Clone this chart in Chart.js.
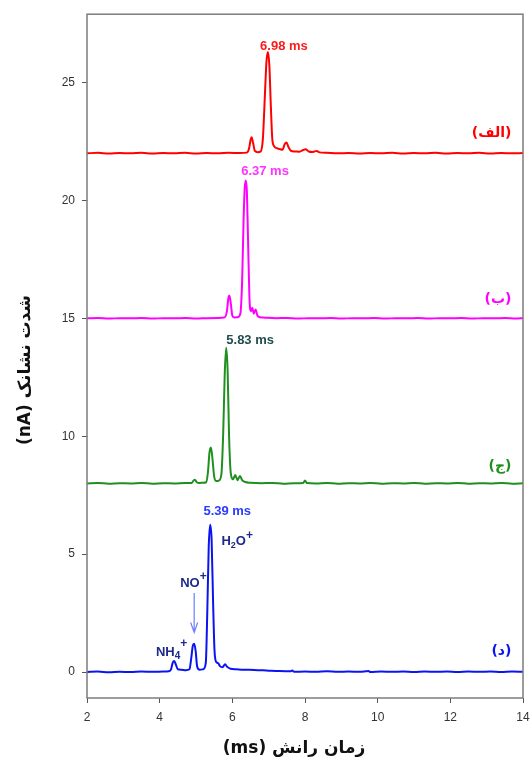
<!DOCTYPE html>
<html>
<head>
<meta charset="utf-8">
<script src="https://cdn.jsdelivr.net/npm/chart.js@4/dist/chart.umd.min.js"></script>
<style>
  html, body { margin: 0; padding: 0; background: #ffffff; }
  canvas { display: block; }
</style>
</head>
<body>
<canvas id="ims" width="531" height="762"></canvas>
<script>
// Drift-time spectra: [drift time (ms), detector current (nA)], each trace offset vertically
const traceNames = ['(الف)', '(ب)', '(ج)', '(د)'];
const peakTimes = [6.98, 6.37, 5.83, 5.39];

const traceAlef = [
  [2.0,22.00],[2.3,22.02],[2.6,21.99],[2.9,22.01],[3.2,22.00],[3.5,22.02],[3.8,21.99],[4.1,22.01],
  [4.4,22.00],[4.7,22.02],[5.0,21.99],[5.3,22.01],[5.6,22.00],[5.9,22.02],[6.2,22.01],[6.4,22.03],
  [6.46,22.20],[6.5,22.55],[6.53,22.68],[6.57,22.45],[6.62,22.10],[6.7,22.05],[6.78,22.08],[6.84,22.6],
  [6.9,24.6],[6.94,25.9],[6.98,26.30],[7.02,25.7],[7.06,24.0],[7.1,22.6],[7.15,22.3],[7.22,22.22],
  [7.3,22.18],[7.38,22.15],[7.44,22.38],[7.49,22.46],[7.55,22.25],[7.62,22.10],[7.72,22.08],[7.85,22.07],
  [7.95,22.14],[8.02,22.17],[8.1,22.08],[8.22,22.06],[8.32,22.10],[8.4,22.04],[8.6,22.02],[8.9,22.00],
  [9.2,22.01],[9.5,21.99],[9.8,22.01],[10.1,22.00],[10.4,22.02],[10.7,21.99],[11.0,22.01],[11.3,22.00],
  [11.6,22.02],[11.9,21.99],[12.2,22.01],[12.5,22.00],[12.8,22.02],[13.1,21.99],[13.4,22.01],[13.7,22.00],
  [14.0,22.01]
];

const traceBe = [
  [2.0,15.00],[2.3,15.02],[2.6,14.99],[2.9,15.01],[3.2,15.00],[3.5,15.02],[3.8,14.99],[4.1,15.01],
  [4.4,15.00],[4.7,15.02],[5.0,14.99],[5.3,15.01],[5.6,15.02],[5.78,15.04],[5.85,15.3],[5.89,15.85],
  [5.92,15.97],[5.96,15.6],[6.0,15.12],[6.06,15.04],[6.14,15.05],[6.22,15.2],[6.27,16.6],[6.31,19.2],
  [6.34,20.5],[6.37,20.85],[6.40,20.4],[6.43,18.5],[6.47,15.9],[6.51,15.3],[6.55,15.45],[6.59,15.2],
  [6.64,15.38],[6.69,15.12],[6.76,15.05],[6.9,15.03],[7.2,15.01],[7.5,15.02],[7.8,14.99],[8.1,15.01],
  [8.4,15.00],[8.7,15.02],[9.0,14.99],[9.3,15.01],[9.6,15.00],[9.9,15.02],[10.2,14.99],[10.5,15.01],
  [10.8,15.00],[11.1,15.02],[11.4,14.99],[11.7,15.01],[12.0,15.00],[12.3,15.02],[12.6,14.99],[12.9,15.01],
  [13.2,15.00],[13.5,15.02],[13.8,14.99],[14.0,15.01]
];

const traceJim = [
  [2.0,8.00],[2.3,8.02],[2.6,7.99],[2.9,8.01],[3.2,8.00],[3.5,8.02],[3.8,7.99],[4.1,8.01],
  [4.4,8.00],[4.7,8.02],[4.88,8.02],[4.93,8.12],[4.97,8.16],[5.02,8.05],[5.1,8.02],[5.2,8.03],
  [5.28,8.05],[5.33,8.5],[5.37,9.3],[5.41,9.52],[5.45,9.1],[5.5,8.3],[5.56,8.1],[5.63,8.12],
  [5.7,8.4],[5.75,10.2],[5.79,12.6],[5.83,13.75],[5.87,12.8],[5.91,10.0],[5.96,8.4],[6.02,8.18],
  [6.08,8.36],[6.14,8.14],[6.21,8.32],[6.27,8.14],[6.35,8.06],[6.5,8.03],[6.8,8.01],[7.1,8.02],
  [7.4,7.99],[7.7,8.01],[7.95,8.02],[8.0,8.12],[8.05,8.02],[8.3,8.00],[8.6,8.02],[8.9,7.99],
  [9.2,8.01],[9.5,8.00],[9.8,8.02],[10.1,7.99],[10.4,8.01],[10.7,8.00],[11.0,8.02],[11.3,7.99],
  [11.6,8.01],[11.9,8.00],[12.2,8.02],[12.5,7.99],[12.8,8.01],[13.1,8.00],[13.4,8.02],[13.7,7.99],
  [14.0,8.01]
];

const traceDal = [
  [2.0,0.00],[2.3,0.02],[2.6,-0.01],[2.9,0.01],[3.2,0.00],[3.5,0.02],[3.8,0.01],[4.1,0.02],
  [4.25,0.03],[4.31,0.10],[4.36,0.40],[4.4,0.47],[4.45,0.30],[4.5,0.12],[4.6,0.10],[4.72,0.08],
  [4.82,0.12],[4.87,0.60],[4.91,1.10],[4.95,1.20],[4.99,0.90],[5.03,0.25],[5.1,0.10],[5.2,0.12],
  [5.27,0.40],[5.31,2.5],[5.35,5.3],[5.39,6.25],[5.43,5.6],[5.47,3.0],[5.51,0.90],[5.56,0.42],
  [5.61,0.38],[5.66,0.25],[5.73,0.20],[5.8,0.33],[5.86,0.22],[5.95,0.14],[6.1,0.12],[6.3,0.10],
  [6.6,0.09],[7.0,0.06],[7.3,0.04],[7.6,0.03],[7.65,0.07],[7.7,0.01],[8.0,0.02],[8.3,0.01],
  [8.6,0.03],[8.9,0.01],[9.2,0.02],[9.5,0.01],[9.75,0.04],[9.8,0.00],[10.1,0.02],[10.4,0.01],
  [10.7,0.02],[11.0,0.00],[11.3,0.02],[11.6,0.01],[11.9,0.02],[12.2,0.00],[12.5,0.02],[12.8,0.01],
  [13.1,0.02],[13.4,0.00],[13.7,0.02],[14.0,0.01]
];

const xTickValues = [2, 4, 6, 8, 10, 12, 14];
const yTickValues = [0, 5, 10, 15, 20, 25];

const traces = [traceAlef, traceBe, traceJim, traceDal];
const lineColors = ['#ff0000', '#ff00ff', '#1f8f1f', '#0a14f0'];
const peakLabelColors = ['#ff1a1a', '#ff33ff', '#1f4d4d', '#2a3aff'];
const ionColor = '#1d2a8c';

// label placement, in data units
const peakLabelSpots = [[7.42, 26.55], [6.90, 21.25], [6.49, 14.07], [5.86, 6.80]];
const nameSpots = [[13.68, 22.85], [13.68, 15.80], [13.68, 8.73], [13.68, 0.87]];

const SANS = '"Liberation Sans", Arial, sans-serif';
const PERSIAN = '"DejaVu Sans", "Noto Sans", sans-serif';

function drawRich(ctx, parts, x, y, align) {
  // parts: [text, size, dy]
  let total = 0;
  parts.forEach(p => { ctx.font = 'bold ' + p[1] + 'px ' + SANS; total += ctx.measureText(p[0]).width; });
  let cx = align === 'center' ? x - total / 2 : x;
  ctx.textAlign = 'left';
  ctx.textBaseline = 'middle';
  parts.forEach(p => {
    ctx.font = 'bold ' + p[1] + 'px ' + SANS;
    ctx.fillText(p[0], cx, y + p[2]);
    cx += ctx.measureText(p[0]).width;
  });
}

const overlay = {
  id: 'overlay',
  afterDraw(chart) {
    const { ctx, chartArea: a, scales: { x, y } } = chart;
    ctx.save();

    // plot frame
    ctx.strokeStyle = '#7c7c7c';
    ctx.lineWidth = 1.5;
    ctx.strokeRect(a.left, a.top, a.right - a.left, a.bottom - a.top);

    // peak drift-time labels
    ctx.textAlign = 'center';
    ctx.textBaseline = 'middle';
    ctx.font = 'bold 13px ' + SANS;
    peakTimes.forEach((t, i) => {
      ctx.fillStyle = peakLabelColors[i];
      const [lx, ly] = peakLabelSpots[i];
      ctx.fillText(t.toFixed(2) + ' ms', x.getPixelForValue(lx), y.getPixelForValue(ly));
    });

    // trace names
    ctx.direction = 'rtl';
    ctx.textAlign = 'right';
    ctx.font = 'bold 14px ' + PERSIAN;
    traceNames.forEach((n, i) => {
      ctx.fillStyle = lineColors[i];
      const [lx, ly] = nameSpots[i];
      ctx.fillText(n, x.getPixelForValue(lx), y.getPixelForValue(ly));
    });
    ctx.direction = 'ltr';

    // ion assignments on the lowest trace
    ctx.fillStyle = ionColor;
    drawRich(ctx, [['H', 13, 0], ['2', 9, 4], ['O', 13, 0], ['+', 12, -6]],
      x.getPixelForValue(5.70), y.getPixelForValue(5.55), 'left');
    drawRich(ctx, [['NO', 13, 0], ['+', 12, -6]],
      x.getPixelForValue(4.93), y.getPixelForValue(3.77), 'center');
    drawRich(ctx, [['NH', 13, 0], ['4', 10, 4], ['+', 12, -8]],
      x.getPixelForValue(4.33), y.getPixelForValue(0.85), 'center');

    // arrow pointing at the NO+ peak
    const ax = x.getPixelForValue(4.95);
    const ay0 = y.getPixelForValue(3.35);
    const ay1 = y.getPixelForValue(1.68);
    ctx.strokeStyle = '#6f7dff';
    ctx.lineWidth = 1.2;
    ctx.beginPath();
    ctx.moveTo(ax, ay0); ctx.lineTo(ax, ay1);
    ctx.moveTo(ax - 3.5, ay1 - 10); ctx.lineTo(ax, ay1); ctx.lineTo(ax + 3.5, ay1 - 10);
    ctx.stroke();

    // axis titles
    ctx.fillStyle = '#111111';
    ctx.font = 'bold 17px ' + PERSIAN;
    ctx.direction = 'rtl';
    ctx.textAlign = 'center';
    ctx.textBaseline = 'middle';
    ctx.fillText('زمان رانش (ms)', 294, 749);
    ctx.translate(26, 370);
    ctx.rotate(-Math.PI / 2);
    ctx.fillText('شدت نشانک (nA)', 0, 0);
    ctx.restore();
  }
};

new Chart(document.getElementById('ims'), {
  type: 'line',
  data: {
    datasets: traces.map((tr, i) => ({
      data: tr.map(([t, v]) => ({ x: t, y: v })),
      borderColor: lineColors[i],
      borderWidth: 2,
      pointRadius: 0,
      fill: false,
      cubicInterpolationMode: 'monotone'
    }))
  },
  options: {
    responsive: false,
    animation: false,
    layout: { padding: { top: 13, right: 0, left: 0, bottom: 0 } },
    plugins: { legend: { display: false }, tooltip: { enabled: false } },
    scales: {
      x: {
        type: 'linear', min: 2, max: 14,
        afterFit(s) { s.height = 64; s.paddingRight = 8; },
        afterBuildTicks(s) { s.ticks = xTickValues.map(v => ({ value: v })); },
        ticks: { font: { family: SANS, size: 12 }, color: '#333333', padding: 7, maxRotation: 0, autoSkip: false },
        grid: { drawOnChartArea: false, tickLength: 5, color: '#555555', lineWidth: 1 },
        border: { display: false }
      },
      y: {
        min: -1.1, max: 27.9,
        afterFit(s) { s.width = 87; },
        afterBuildTicks(s) { s.ticks = yTickValues.map(v => ({ value: v })); },
        ticks: { font: { family: SANS, size: 12 }, color: '#333333', padding: 7 },
        grid: { drawOnChartArea: false, tickLength: 5, color: '#555555', lineWidth: 1 },
        border: { display: false }
      }
    }
  },
  plugins: [overlay]
});
</script>
</body>
</html>
